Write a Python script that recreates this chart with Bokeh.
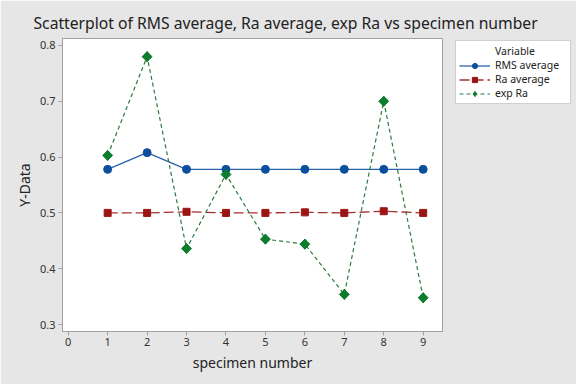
import math
from bokeh.plotting import figure
from bokeh.models import Legend, LegendItem, Range1d, FixedTicker
from bokeh.embed import file_html
from bokeh.resources import INLINE

specimen = [1, 2, 3, 4, 5, 6, 7, 8, 9]
rms_average = [0.578, 0.608, 0.578, 0.578, 0.578, 0.578, 0.578, 0.578, 0.578]
ra_average = [0.500, 0.500, 0.502, 0.500, 0.500, 0.501, 0.500, 0.503, 0.500]
exp_ra = [0.603, 0.780, 0.436, 0.569, 0.453, 0.444, 0.354, 0.700, 0.348]
x_ticks = [0, 1, 2, 3, 4, 5, 6, 7, 8, 9]
y_ticks = [0.3, 0.4, 0.5, 0.6, 0.7, 0.8]

FONT = "Noto Sans"
BG = "#e6e6e6"
AX = "#a0a0a0"

p = figure(frame_width=380, frame_height=293, output_backend="svg", toolbar_location=None,
           x_range=Range1d(-0.145, 9.49), y_range=Range1d(0.2875, 0.8125),
           min_border_left=62, min_border_right=134, min_border_top=38, min_border_bottom=53)
p.background_fill_color = "white"
p.border_fill_color = BG
p.outline_line_color = AX
p.grid.visible = False

p.title.text = "Scatterplot of RMS average, Ra average, exp Ra vs specimen number"
p.title.text_font = FONT
p.title.text_font_size = "15.7px"
p.title.text_font_style = "normal"
p.title.text_color = "#222222"
p.title.align = "left"
p.title.offset = -29
p.title.standoff = 10

for ax in (p.xaxis[0], p.yaxis[0]):
    ax.axis_line_color = AX
    ax.major_tick_line_color = AX
    ax.major_tick_out = 4
    ax.major_tick_in = 0
    ax.minor_tick_line_color = None
    ax.major_label_text_font = FONT
    ax.major_label_text_font_size = "11px"
    ax.major_label_text_color = "#333333"
    ax.axis_label_text_font = FONT
    ax.axis_label_text_font_style = "normal"
    ax.axis_label_text_color = "#222222"
    ax.axis_label_text_font_size = "14px"

p.xaxis.ticker = FixedTicker(ticks=x_ticks)
p.yaxis.ticker = FixedTicker(ticks=y_ticks)
p.xaxis.axis_label = "specimen number"
p.yaxis.axis_label = "Y-Data"
p.xaxis.major_label_standoff = 2
p.xaxis.axis_label_standoff = 4
p.yaxis.major_label_standoff = 3
p.yaxis.axis_label_standoff = 3

blue = "#0b4f9e"
blue_line = "#2a62aa"
red = "#9c1414"
red_line = "#a53030"
green = "#0b7d2c"
green_line = "#2d7a3e"

dummy = p.line(x=[], y=[], line_alpha=0)
l1 = p.line(specimen, rms_average, line_color=blue_line, line_width=1.3)
s1 = p.scatter(specimen, rms_average, marker="circle", size=8, fill_color=blue, line_color=blue)
l2 = p.line(specimen, ra_average, line_color=red_line, line_width=1.3, line_dash="10 4")
s2 = p.scatter(specimen, ra_average, marker="square", size=7, fill_color=red, line_color=red)
l3 = p.line(specimen, exp_ra, line_color=green_line, line_width=1.2, line_dash="4 3")
s3_key = p.scatter(specimen, exp_ra, marker="diamond", size=10, fill_color=green, line_color=green)
s3 = p.scatter(specimen, exp_ra, marker="square", angle=math.pi / 4, size=7,
               fill_color=green, line_color=green)

legend = Legend(items=[
    LegendItem(label="Variable", renderers=[dummy]),
    LegendItem(label="RMS average", renderers=[l1, s1]),
    LegendItem(label="Ra average", renderers=[l2, s2]),
    LegendItem(label="exp Ra", renderers=[l3, s3_key]),
])
legend.location = (13, 227)
legend.margin = 0
legend.padding = 3
legend.spacing = 0
legend.glyph_width = 31
legend.glyph_height = 13
legend.label_height = 13
legend.label_width = 72
legend.label_standoff = 5
legend.label_text_font = FONT
legend.label_text_font_size = "10.5px"
legend.label_text_color = "#222222"
legend.border_line_color = AX
legend.background_fill_color = "white"
legend.background_fill_alpha = 1
p.add_layout(legend, "right")

html = file_html(p, INLINE)
html = html.replace("<body>", '<body style="background:%s;">' % BG, 1)
open("out.html", "w").write(html)
